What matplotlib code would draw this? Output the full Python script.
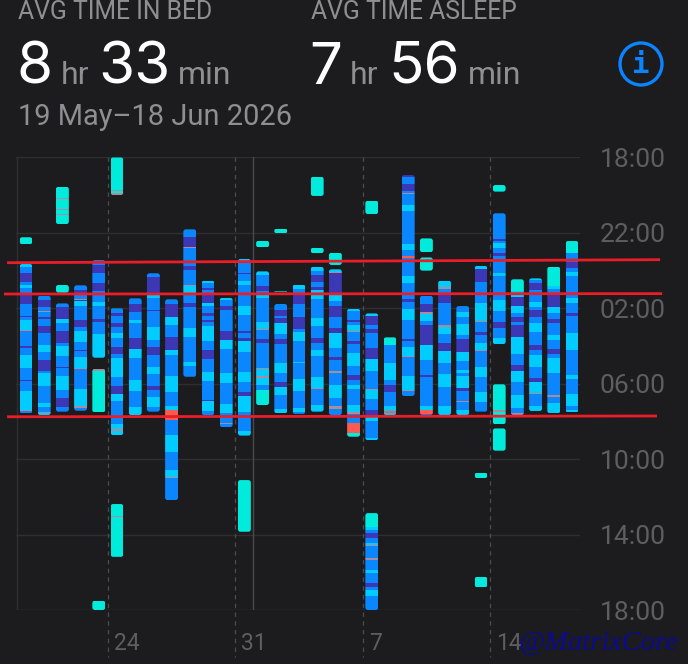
import matplotlib
matplotlib.use("Agg")
import matplotlib.pyplot as plt
from matplotlib.patches import Circle, FancyBboxPatch
from matplotlib.transforms import ScaledTranslation, blended_transform_factory

W, H = 688, 664
BG = "#1C1C1E"
A, R, C, D, B = "awake", "rem", "core", "deep", "inbed"
STAGE_COLORS = {A: "#FF5A4F", R: "#00CCFF", C: "#0A86FF", D: "#3B37B5", B: "#00EBDB"}
BRIEF_WAKE_COLOR = "#A98C9E"
BRIEF_WAKE_HOURS = 0.125

# Hours after 18:00. Each run is (start, [(stage, end), ...]).
day_00 = [(4.23, [(B, 4.6)]),
          (5.65, [(R, 5.79), (C, 6.14), (D, 6.59), (C, 6.75), (R, 6.9), (C, 7.25), (D, 7.75), (C, 8.4), (D, 8.45), (C, 8.62), (R, 9.15), (A, 9.2), (C, 10.0), (D, 10.1), (C, 10.48), (R, 11.18), (C, 11.8), (D, 11.85), (C, 12.37), (R, 13.4), (A, 13.45), (C, 13.57)])]
day_01 = [(7.33, [(C, 7.56), (D, 7.91), (C, 8.15), (A, 8.2), (C, 8.45), (D, 8.55), (C, 8.95), (D, 9.3), (C, 9.95), (R, 10.3), (C, 10.75), (D, 11.35), (C, 11.45), (R, 12.12), (C, 13.0), (R, 13.25), (C, 13.48), (A, 13.55), (R, 13.66)])]
day_02 = [(1.55, [(B, 2.13), (A, 2.2), (B, 2.75), (A, 2.78), (B, 3.0), (A, 3.03), (B, 3.2), (A, 3.23), (B, 3.53)]),
          (6.76, [(B, 7.17)]),
          (7.74, [(C, 7.95), (D, 8.55), (R, 8.8), (C, 9.2), (D, 9.85), (C, 10.0), (R, 10.55), (C, 11.1), (D, 11.15), (C, 11.6), (R, 12.35), (C, 12.75), (D, 13.25), (C, 13.48)])]
day_03 = [(6.78, [(C, 7.05), (D, 7.2), (C, 7.5), (A, 7.55), (D, 7.6), (R, 7.85), (C, 8.6), (D, 9.0), (C, 9.2), (R, 9.8), (C, 10.2), (D, 10.25), (C, 10.6), (R, 11.15), (A, 11.22), (C, 12.3), (R, 13.2), (A, 13.3), (C, 13.43)])]
day_04 = [(5.44, [(C, 5.7), (D, 6.1), (C, 6.64), (D, 7.1), (C, 7.65), (R, 7.9), (C, 8.56), (D, 8.7), (C, 9.36), (R, 10.62)]),
          (11.2, [(A, 11.3), (B, 13.52)]),
          (23.5, [(B, 24.0)])]
day_05 = [(0.0, [(B, 1.72), (A, 1.78), (B, 1.88), (A, 1.99)]),
          (8.0, [(C, 8.25), (D, 8.42), (C, 8.8), (D, 9.0), (C, 9.3), (R, 9.6), (C, 10.05), (D, 10.4), (C, 10.65), (R, 11.62), (C, 12.12), (D, 12.57), (R, 12.9), (C, 14.12), (R, 14.4), (A, 14.5), (R, 14.72)]),
          (18.38, [(B, 19.02), (A, 19.08), (B, 21.18)])]
day_06 = [(7.47, [(C, 7.77), (D, 8.2), (C, 8.6), (R, 8.8), (C, 9.55), (D, 10.17), (R, 10.65), (C, 11.8), (R, 12.37), (C, 13.25), (R, 13.66)])]
day_07 = [(6.14, [(C, 6.35), (D, 7.2), (R, 7.45), (C, 8.1), (D, 8.15), (C, 8.97), (R, 9.68), (C, 10.07), (D, 10.47), (C, 11.1), (R, 11.48), (C, 12.12), (D, 12.34), (C, 12.7), (R, 13.22), (C, 13.48)])]
day_08 = [(7.52, [(C, 7.77), (D, 8.48), (R, 8.9), (C, 9.5), (D, 10.2), (R, 10.5), (C, 11.6), (R, 12.42), (C, 13.18), (R, 13.4), (A, 13.9), (C, 14.72), (R, 15.63), (C, 16.58), (R, 16.95), (A, 17.0), (C, 18.17)])]
day_09 = [(3.81, [(C, 4.23), (D, 4.73), (A, 4.78), (C, 5.75), (D, 5.95), (C, 6.75), (A, 6.82), (R, 7.17), (C, 7.74), (D, 7.92), (C, 9.06), (R, 9.54), (C, 10.83), (R, 11.06), (C, 11.63)])]
day_10 = [(6.53, [(R, 6.68), (C, 6.9), (D, 7.03), (C, 7.2), (D, 7.7), (R, 7.9), (C, 8.27), (D, 8.4), (C, 8.6), (D, 8.75), (C, 8.95), (R, 9.71), (C, 10.2), (D, 10.7), (C, 11.36), (R, 11.84), (C, 12.85), (D, 12.9), (R, 13.45), (C, 13.66)])]
day_11 = [(7.44, [(R, 7.55), (C, 7.85), (D, 8.1), (C, 9.2), (D, 9.7), (R, 10.17), (C, 11.45), (R, 11.98), (C, 13.05), (R, 13.57), (C, 14.1), (A, 14.15), (C, 14.3)])]
day_12 = [(5.38, [(R, 5.52), (C, 6.1), (D, 6.2), (C, 6.55), (R, 6.78), (C, 7.9), (R, 8.36), (C, 9.2), (D, 9.3), (C, 9.6), (D, 9.72), (R, 10.3), (C, 11.36), (R, 11.89), (C, 12.42), (D, 12.65), (R, 13.48), (C, 14.5), (R, 14.75)]),
          (17.11, [(B, 19.85)])]
day_13 = [(4.41, [(B, 4.77)]),
          (6.04, [(R, 6.24), (C, 6.8), (D, 7.1), (C, 7.3), (R, 7.45), (C, 8.75), (R, 9.1), (A, 9.14), (C, 9.65), (D, 9.86), (C, 11.15), (A, 11.2), (R, 11.6), (A, 11.7), (R, 12.06), (C, 12.34), (B, 13.13)])]
day_14 = [(3.77, [(B, 4.02)]),
          (7.1, [(B, 7.16)]),
          (7.77, [(C, 8.1), (D, 8.4), (C, 8.5), (D, 8.76), (R, 9.35), (C, 9.65), (D, 9.9), (C, 10.9), (R, 11.42), (C, 11.9), (D, 12.16), (R, 12.6), (C, 13.36), (R, 13.57)])]
day_15 = [(6.74, [(R, 6.95), (C, 7.2), (D, 7.75), (C, 8.45), (D, 9.1), (C, 9.25), (R, 9.75), (C, 10.85), (R, 10.9), (C, 11.75), (R, 12.4), (C, 13.3), (R, 13.5), (C, 13.6)])]
day_16 = [(1.02, [(B, 2.04)]),
          (4.78, [(B, 5.08)]),
          (5.79, [(R, 6.0), (C, 6.25), (D, 6.6), (C, 6.85), (D, 7.05), (R, 7.5), (C, 8.53), (R, 8.95), (C, 9.6), (D, 9.85), (C, 10.2), (R, 10.55), (C, 11.63), (R, 12.25), (A, 12.28), (C, 13.13), (R, 13.48)])]
day_17 = [(5.05, [(B, 5.7)]),
          (5.93, [(R, 6.05), (A, 6.15), (D, 7.2), (R, 7.6), (C, 7.9), (D, 8.44), (C, 9.05), (D, 9.3), (R, 10.12), (C, 10.6), (D, 10.72), (C, 11.35), (A, 11.42), (C, 12.05), (R, 12.77), (C, 13.2), (A, 13.32), (C, 13.66)])]
day_18 = [(8.02, [(R, 8.15), (C, 8.6), (D, 8.7), (C, 8.9), (R, 9.2), (A, 9.25), (C, 9.75), (D, 9.9), (C, 10.39), (R, 11.08), (C, 11.55), (D, 11.8), (C, 12.05), (R, 12.3), (C, 13.15), (R, 13.5), (A, 13.58), (C, 14.07), (A, 14.6), (B, 14.81)])]
day_19 = [(2.29, [(B, 3.0)]),
          (8.27, [(R, 8.4), (D, 8.9), (C, 9.1), (D, 9.3), (C, 10.1), (D, 10.7), (R, 11.3), (C, 12.3), (A, 12.34), (R, 12.8), (C, 13.4), (D, 13.65), (R, 13.95), (C, 14.9), (R, 14.99)]),
          (18.86, [(B, 19.6), (R, 19.75), (C, 19.92), (D, 20.19), (C, 20.45), (R, 20.55), (A, 20.62), (C, 21.25), (A, 21.35), (C, 21.88), (R, 22.04), (C, 22.57), (D, 22.79), (C, 22.94), (R, 23.26), (C, 24.0)])]
day_20 = [(9.54, [(B, 9.95), (C, 10.9), (R, 11.8), (C, 12.05), (D, 12.45), (C, 13.2), (R, 13.42), (A, 13.55), (R, 13.66)])]
day_21 = [(0.93, [(D, 1.05), (C, 1.4), (D, 1.76), (C, 1.9), (A, 1.95), (C, 2.5), (R, 2.85), (C, 4.6), (R, 4.88), (C, 5.22), (A, 5.35), (C, 6.3), (R, 6.65), (C, 7.5), (D, 7.65), (C, 8.05), (R, 8.62), (C, 9.65), (D, 9.72), (C, 10.05), (R, 10.53), (A, 10.57), (C, 11.6), (R, 12.32), (A, 12.36), (C, 12.65)])]
day_22 = [(4.29, [(B, 5.03)]),
          (5.3, [(B, 6.0)]),
          (7.33, [(C, 7.77), (D, 8.2), (A, 8.28), (R, 8.65), (C, 8.9), (D, 9.95), (R, 10.75), (C, 11.55), (D, 11.65), (C, 12.2), (A, 12.25), (C, 13.2), (R, 13.38), (A, 13.6), (C, 13.66)])]
day_23 = [(6.53, [(R, 6.85), (A, 6.95), (C, 7.2), (D, 7.7), (C, 8.9), (A, 8.97), (R, 9.35), (C, 9.85), (D, 10.25), (R, 10.9), (C, 11.5), (R, 12.15), (C, 13.2), (R, 13.66)])]
day_24 = [(7.88, [(C, 8.2), (R, 8.45), (C, 8.85), (R, 9.4), (C, 9.65), (D, 10.3), (R, 10.77), (C, 11.25), (R, 11.45), (C, 11.6), (R, 12.2), (D, 12.4), (C, 12.9), (A, 12.95), (C, 13.4), (R, 13.66)])]
day_25 = [(5.75, [(R, 5.9), (D, 6.6), (C, 7.7), (R, 8.65), (A, 8.7), (C, 9.25), (D, 9.42), (C, 9.85), (R, 10.2), (A, 10.25), (C, 11.1), (R, 11.63), (C, 12.42), (R, 12.95), (C, 13.48)]),
          (16.72, [(B, 17.0)]),
          (22.24, [(B, 22.79)])]
day_26 = [(1.46, [(B, 1.81)]),
          (2.96, [(C, 4.3), (D, 4.42), (C, 4.55), (R, 4.78), (C, 5.08), (D, 5.2), (C, 6.1), (R, 6.3), (C, 7.56), (R, 8.15), (C, 8.7), (D, 9.06), (C, 9.55), (R, 9.9)]),
          (12.03, [(B, 13.4), (A, 13.5), (B, 14.15)]),
          (14.37, [(B, 15.55)])]
day_27 = [(6.46, [(B, 7.1), (R, 7.38), (D, 7.87), (R, 8.27), (C, 8.45), (D, 8.7), (C, 8.9), (D, 9.5), (R, 10.4), (C, 11.0), (D, 11.3), (R, 11.9), (C, 12.6), (R, 13.3), (C, 13.55), (A, 13.66)])]
day_28 = [(6.41, [(R, 6.5), (C, 6.68), (D, 7.03), (C, 7.65), (R, 7.95), (C, 8.1), (D, 8.45), (C, 8.8), (R, 9.25), (C, 9.95), (D, 10.22), (C, 10.5), (R, 11.1), (C, 11.72), (D, 11.9), (R, 12.5), (A, 12.55), (C, 13.17), (R, 13.45)])]
day_29 = [(5.79, [(B, 6.8), (R, 6.95), (C, 7.2), (D, 7.91), (R, 8.27), (C, 8.55), (D, 8.8), (C, 9.4), (R, 9.68), (C, 10.16), (D, 10.42), (C, 10.66), (R, 11.45), (C, 12.6), (A, 12.72), (C, 13.0), (R, 13.57)])]
day_30 = [(4.43, [(B, 5.05), (C, 5.52), (D, 5.88), (C, 6.05), (R, 6.28), (C, 7.47), (R, 7.73), (C, 8.23), (D, 8.4), (C, 9.33), (R, 10.21), (C, 11.53), (R, 11.76), (C, 12.55), (R, 13.18), (C, 13.4), (R, 13.52)])]

days = [day_00, day_01, day_02, day_03, day_04, day_05, day_06, day_07, day_08, day_09,
        day_10, day_11, day_12, day_13, day_14, day_15, day_16, day_17, day_18, day_19,
        day_20, day_21, day_22, day_23, day_24, day_25, day_26, day_27, day_28, day_29, day_30]

hour_ticks = [0, 4, 8, 12, 16, 20, 24]
hour_labels = ["18:00", "22:00", "02:00", "06:00", "10:00", "14:00", "18:00"]
week_ticks = [4.5, 11.5, 18.5, 25.5]
week_labels = ["24", "31", "7", "14"]
cursor_day = 12.5

# Hand-drawn red guide lines, as (day, hour) end points
guide_days = [(-1.04, 34.84), (-1.21, 34.95), (-1.04, 34.67)]
guide_hours = [(5.58, 5.42), (7.24, 7.22), (13.75, 13.71)]

GRID = "#2F2F31"
EDGE = "#3A3A3C"
MUTED = "#8E8E93"
AXIS_TEXT = "#5E5E62"
FONT = "Roboto"

fig = plt.figure(figsize=(W / 100, H / 100), dpi=100, facecolor=BG)
ax = fig.add_axes([16 / W, 1 - 610 / H, (580 - 16) / W, (610 - 157.5) / H], facecolor=BG)
ax.set_xlim(-0.549, 30.44)
ax.set_ylim(24, 0)
for s in ax.spines.values():
    s.set_visible(False)

# Grid and day markers
for h in hour_ticks:
    ax.axhline(h, color=EDGE if h == 24 else GRID, lw=1, zorder=1)
ax.axvline(-0.52, color=GRID, lw=1, zorder=1)
ax.axvline(cursor_day, color="#4A4A4D", lw=1, zorder=1.5)
trans = blended_transform_factory(ax.transData, ax.transAxes)
for d in week_ticks:
    ax.plot([d, d], [1, -0.104], transform=trans, color="#4C4C50", lw=0.9,
            dashes=(3.5, 3.5), clip_on=False, zorder=1.5)

# Sleep stage bars, one rounded clip per contiguous run
bar_w = 0.71
radius = 0.14
aspect = (18.2 / 18.85)
for i, runs in enumerate(days):
    for start, segments in runs:
        end = segments[-1][1]
        clip = FancyBboxPatch((i - bar_w / 2, start), bar_w, end - start,
                              boxstyle=f"round,pad=0,rounding_size={min(radius, (end - start) / 2.2 / aspect)}",
                              mutation_aspect=aspect, transform=ax.transData,
                              fc="none", ec="none")
        ax.add_patch(clip)
        y0 = start
        for stage, y1 in segments:
            brief = stage == A and (y1 - y0) < BRIEF_WAKE_HOURS
            color = BRIEF_WAKE_COLOR if brief else STAGE_COLORS[stage]
            rect = ax.bar(i, y1 - y0, bottom=y0, width=bar_w, color=color,
                          linewidth=0, zorder=3)[0]
            rect.set_clip_path(clip)
            y0 = y1

# Axis labels
ax.yaxis.tick_right()
ax.set_yticks(hour_ticks, hour_labels)
ax.tick_params(axis="y", length=0, pad=14.2, labelcolor=AXIS_TEXT, labelsize=19)
ax.set_xticks(week_ticks, week_labels)
ax.tick_params(axis="x", length=0, pad=15.5, labelcolor=AXIS_TEXT, labelsize=16.5)
for lab in ax.get_yticklabels():
    lab.set_fontfamily(FONT)
for lab in ax.get_xticklabels():
    lab.set_fontfamily(FONT)
    lab.set_horizontalalignment("left")
    lab.set_transform(lab.get_transform() + ScaledTranslation(6 / 100, 0, fig.dpi_scale_trans))

for xs, ys in zip(guide_days, guide_hours):
    ax.plot(xs, ys, color="#EA1D28", lw=2.0, clip_on=False, zorder=6, solid_capstyle="butt")

# Header and overlay elements, laid out in pixels
ov = fig.add_axes([0, 0, 1, 1], facecolor="none")
ov.set_xlim(0, W)
ov.set_ylim(H, 0)
ov.axis("off")

def label(x, y, s, size, color, weight="normal", family=FONT, **kw):
    ov.text(x, y, s, fontsize=size, color=color, fontweight=weight, family=family,
            ha="left", va="baseline", **kw)

label(18, 19, "AVG TIME IN BED", 17.8, MUTED)
label(311, 19, "AVG TIME ASLEEP", 17.8, MUTED)
for x, s in [(16, "8"), (98, "33"), (309, "7"), (388, "56")]:
    label(x, 84, s, 42, "#FFFFFF", family="Inter")
for x, s in [(61, "hr"), (178, "min"), (350, "hr"), (468, "min")]:
    label(x, 84, s, 23, MUTED)
label(18, 125, "19 May\u201318 Jun 2026", 20.9, MUTED)

ov.add_patch(Circle((641, 64), 21, fc="none", ec="#0A84FF", lw=2.4))
ov.text(641, 65, "i", fontsize=21, color="#0A84FF", ha="center", va="center",
        family="DejaVu Sans Mono", fontweight="bold")

ov.text(518, 650, "@MatrixCore", fontsize=20.5, color="#0A0A96", family="Liberation Serif",
        style="italic", ha="left", va="baseline", clip_on=False)

fig.savefig("out.png", dpi=100, facecolor=BG)
